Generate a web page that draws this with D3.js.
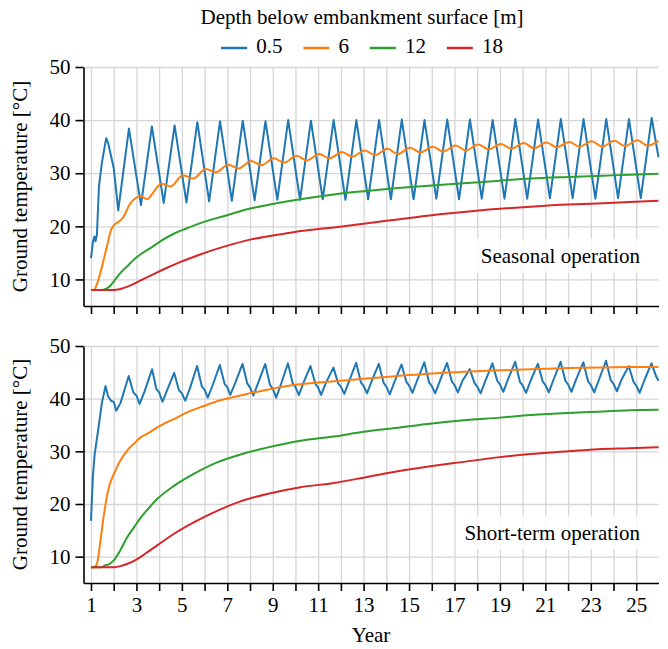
<!DOCTYPE html>
<html lang="en">
<head>
<meta charset="utf-8">
<title>Ground temperature</title>
<script src="https://cdn.jsdelivr.net/npm/d3@7/dist/d3.min.js"></script>
<style>
  body { margin: 0; background: #fff; }
  text { font-family: "Liberation Serif", "Times New Roman", serif; fill: #000; }
</style>
</head>
<body>
<script>
// Legend entries (depth below embankment surface, m)
var depths = ["0.5", "6", "12", "18"];
var colors = ["#1f77b4", "#ff7f0e", "#2ca02c", "#d62728"];

// Tick values
var yearTicks = [1, 2, 3, 4, 5, 6, 7, 8, 9, 10, 11, 12, 13, 14, 15, 16, 17, 18, 19, 20, 21, 22, 23, 24, 25];
var tempTicks = [10, 20, 30, 40, 50];

// Seasonal operation: [year, temperature]
var seasonal05 = [[1.00,14.0],[1.09,17.2],[1.15,18.1],[1.20,17.2],[1.26,18.4],[1.35,27.5],[1.48,32.0],[1.67,36.6],[1.76,35.6],[2.00,31.0],[2.20,23.0],
  [2.67,38.4],[3.20,24.0],[3.68,38.8],[4.20,24.4],[4.68,39.0],[5.20,24.5],[5.68,39.6],[6.20,24.7],[6.68,39.8],[7.20,24.8],[7.68,39.9],
  [8.20,24.9],[8.68,39.8],[9.20,25.0],[9.68,40.0],[10.20,25.0],[10.68,39.9],[11.20,25.1],[11.68,40.0],[12.20,25.0],[12.68,40.0],
  [13.20,25.1],[13.68,40.0],[14.20,25.1],[14.68,40.1],[15.20,25.1],[15.68,40.0],[16.20,25.2],[16.68,40.1],[17.20,25.1],[17.68,40.1],
  [18.20,25.2],[18.68,40.0],[19.20,25.2],[19.68,40.2],[20.20,25.2],[20.68,40.1],[21.20,25.3],[21.68,40.2],[22.20,25.3],[22.68,40.2],
  [23.20,25.2],[23.68,40.2],[24.20,25.3],[24.68,40.2],[25.20,25.3],[25.68,40.4],[25.98,33.0]];
var seasonal6 = [[1.00,8.0],[1.12,8.0],[1.25,9.0],[1.41,11.2],[1.70,16.2],[1.90,19.5],[2.05,20.4],[2.20,20.8],[2.40,21.6],[2.73,24.3],
  [3.00,25.4],[3.20,25.6],[3.47,25.1],[3.76,26.5],[4.10,28.0],[4.50,27.5],[5.05,29.6],[5.50,29.0],[6.05,30.8],[6.50,30.2],
  [7.05,31.6],[7.50,30.9],[8.05,32.3],[8.50,31.5],[9.05,32.8],[9.50,32.0],[10.05,33.3],[10.50,32.4],[11.05,33.6],[11.50,32.8],
  [12.05,34.0],[12.50,33.1],[13.05,34.3],[13.50,33.4],[14.05,34.6],[14.50,33.6],[15.05,34.8],[15.50,33.9],[16.05,35.0],[16.50,34.1],
  [17.05,35.2],[17.50,34.3],[18.05,35.4],[18.50,34.5],[19.05,35.5],[19.50,34.6],[20.05,35.7],[20.50,34.7],[21.05,35.8],[21.50,34.9],
  [22.05,35.9],[22.50,35.0],[23.05,36.0],[23.50,35.0],[24.05,36.1],[24.50,35.1],[25.05,36.2],[25.50,35.2],[25.98,36.1]];
var seasonal12 = [[1.00,8.0],[1.50,8.0],[1.70,8.3],[1.85,8.8],[2.00,9.6],[2.29,11.2],[2.60,12.5],[2.88,13.7],[3.20,14.8],[3.61,15.9],
  [4.10,17.3],[4.64,18.6],[5.20,19.6],[5.81,20.6],[6.40,21.4],[6.99,22.1],[7.60,22.9],[8.16,23.5],[9.00,24.2],[9.48,24.6],
  [10.50,25.3],[11.69,26.0],[13.00,26.6],[14.50,27.2],[16.00,27.7],[17.40,28.1],[19.00,28.6],[20.35,29.0],[22.00,29.3],
  [23.30,29.5],[24.70,29.7],[25.98,29.9]];
var seasonal18 = [[1.00,8.0],[2.00,8.0],[2.30,8.2],[2.58,8.6],[3.00,9.4],[3.32,10.1],[3.80,11.1],[4.35,12.2],[5.00,13.4],[5.81,14.7],
  [6.50,15.7],[7.28,16.7],[8.00,17.5],[8.75,18.1],[9.50,18.6],[10.22,19.1],[11.00,19.5],[11.69,19.8],[13.00,20.5],[14.50,21.3],
  [16.00,22.1],[17.40,22.7],[19.00,23.3],[20.35,23.7],[22.00,24.1],[23.30,24.3],[24.70,24.6],[25.98,24.8]];

// Short-term operation: [year, temperature]
var short05 = [[1.00,16.8],[1.08,25.0],[1.16,29.4],[1.33,34.5],[1.48,39.2],[1.64,42.4],[1.75,40.5],[1.88,39.6],[2.00,39.4],
  [2.11,37.7],[2.30,39.2],[2.66,44.3],[2.86,41.2],[3.00,40.6],
  [3.14,39.0],[3.35,41.3],[3.69,45.6],[3.88,41.8],[4.00,41.2],
  [4.15,39.4],[4.35,41.6],[4.66,44.9],[4.87,41.6],[5.00,41.0],
  [5.15,39.6],[5.35,41.9],[5.67,46.2],[5.88,42.3],[6.00,41.7],
  [6.14,40.2],[6.35,42.5],[6.67,46.4],[6.88,42.8],[7.00,42.2],
  [7.13,40.7],[7.35,43.0],[7.67,46.6],[7.88,42.9],[8.00,42.1],
  [8.15,40.6],[8.35,42.9],[8.67,46.6],[8.88,42.6],[9.00,41.9],
  [9.15,40.2],[9.35,42.6],[9.67,46.7],[9.88,42.9],[10.00,42.2],
  [10.15,40.7],[10.35,43.0],[10.66,46.2],[10.88,42.8],[11.00,42.1],
  [11.13,40.7],[11.35,43.1],[11.67,45.9],[11.88,42.9],[12.00,42.3],
  [12.15,40.9],[12.35,43.2],[12.67,46.8],[12.88,43.1],[13.00,42.4],
  [13.15,41.0],[13.35,43.3],[13.67,46.6],[13.88,43.0],[14.00,42.3],
  [14.15,40.8],[14.35,43.1],[14.67,46.5],[14.88,43.2],[15.00,42.5],
  [15.15,41.1],[15.35,43.4],[15.67,46.9],[15.88,43.1],[16.00,42.4],
  [16.15,41.0],[16.35,43.3],[16.67,46.8],[16.88,43.3],[17.00,42.6],
  [17.15,41.2],[17.35,43.4],[17.67,45.6],[17.88,43.0],[18.00,42.3],
  [18.15,41.0],[18.35,43.3],[18.67,46.7],[18.88,43.4],[19.00,42.7],
  [19.15,41.3],[19.35,43.6],[19.67,47.0],[19.88,43.2],[20.00,42.5],
  [20.15,41.1],[20.35,43.4],[20.67,46.6],[20.88,43.3],[21.00,42.6],
  [21.15,41.2],[21.35,43.5],[21.67,47.0],[21.88,43.4],[22.00,42.7],
  [22.15,41.3],[22.35,43.6],[22.67,46.9],[22.88,43.3],[23.00,42.6],
  [23.15,41.2],[23.35,43.5],[23.67,47.2],[23.88,43.5],[24.00,42.8],
  [24.15,41.4],[24.35,43.6],[24.67,46.2],[24.88,43.2],[25.00,42.5],
  [25.15,41.1],[25.35,43.4],[25.67,46.7],[25.88,44.2],[25.98,43.4]];
var short6 = [[1.00,8.0],[1.12,8.0],[1.26,8.6],[1.40,12.5],[1.55,17.4],[1.75,22.5],[2.07,26.3],[2.30,28.3],[2.58,30.1],[2.90,31.5],
  [3.17,32.6],[3.50,33.4],[3.90,34.5],[4.20,35.2],[4.64,36.1],[5.23,37.4],[5.96,38.6],[6.70,39.7],[7.58,40.6],[8.75,41.7],
  [9.93,42.6],[10.80,43.0],[11.70,43.3],[13.00,43.8],[14.50,44.3],[16.00,44.8],[17.40,45.1],[19.00,45.4],[20.35,45.6],
  [22.00,45.8],[23.30,45.9],[24.70,46.0],[25.98,46.0]];
var short12 = [[1.00,8.0],[1.45,8.0],[1.60,8.3],[1.80,8.6],[2.00,9.3],[2.30,11.3],[2.58,13.6],[2.90,15.6],[3.17,17.3],[3.50,19.0],
  [3.90,20.9],[4.64,23.4],[5.52,25.7],[6.55,27.9],[7.58,29.4],[8.75,30.7],[10.22,32.0],[11.69,32.8],[13.00,33.7],[14.50,34.5],
  [16.00,35.3],[17.40,35.9],[19.00,36.4],[20.35,36.9],[22.00,37.3],[23.30,37.5],[24.70,37.8],[25.98,37.9]];
var short18 = [[1.00,8.0],[2.00,8.0],[2.30,8.2],[2.58,8.6],[2.90,9.2],[3.17,9.9],[3.50,10.9],[3.90,12.1],[4.64,14.3],[5.52,16.5],
  [6.55,18.7],[7.58,20.5],[8.75,21.9],[10.22,23.2],[11.69,24.0],[13.00,25.0],[14.50,26.2],[16.00,27.2],[17.40,28.0],[19.00,28.9],
  [20.35,29.5],[22.00,30.0],[23.30,30.4],[24.70,30.6],[25.98,30.8]];

// Width and height
var w = 668;
var h = 649;
var left = 83.5, right = 658.5;
var fontSize = 21;

var panels = [
  { label: "Seasonal operation", top: 67, bottom: 306, series: [seasonal05, seasonal6, seasonal12, seasonal18], labelY: 258, showX: false },
  { label: "Short-term operation", top: 346, bottom: 583, series: [short05, short6, short12, short18], labelY: 535, showX: true }
];

var svg = d3.select("body")
  .append("svg")
  .attr("width", w)
  .attr("height", h);

svg.append("rect").attr("width", w).attr("height", h).attr("fill", "#fff");

// Create x scale
var xScale = d3.scaleLinear()
  .domain([0.67, 25.98])
  .range([left, right]);

panels.forEach(function(p) {
  var yScale = d3.scaleLinear()
    .domain([5, 50])
    .range([p.bottom, p.top]);

  var g = svg.append("g");

  // Grid lines
  g.append("g")
    .attr("transform", "translate(0," + p.bottom + ")")
    .call(d3.axisBottom(xScale).tickValues(yearTicks).tickSize(-(p.bottom - p.top)).tickFormat(""))
    .call(function(s) { s.select(".domain").remove(); s.selectAll("text").remove(); })
    .selectAll("line").attr("stroke", "#d6d6d6").attr("stroke-width", 1.3);

  g.append("g")
    .attr("transform", "translate(" + left + ",0)")
    .call(d3.axisLeft(yScale).tickValues(tempTicks).tickSize(-(right - left)).tickFormat(""))
    .call(function(s) { s.select(".domain").remove(); s.selectAll("text").remove(); })
    .selectAll("line").attr("stroke", "#d6d6d6").attr("stroke-width", 1.3);

  // Label box goes under the lines' text but above the grid
  var boxLayer = g.append("g");

  // Lines
  var line = d3.line()
    .x(function(d) { return xScale(d[0]); })
    .y(function(d) { return yScale(d[1]); });

  p.series.forEach(function(data, k) {
    line.curve(k === 0 ? d3.curveLinear : d3.curveMonotoneX);
    g.append("path")
      .datum(data)
      .attr("fill", "none")
      .attr("stroke", colors[k])
      .attr("stroke-width", 2)
      .attr("stroke-linejoin", "round")
      .attr("d", line);
  });

  // Annotation
  var ann = g.append("text")
    .attr("x", 640)
    .attr("y", p.labelY)
    .attr("text-anchor", "end")
    .attr("dominant-baseline", "middle")
    .style("font-size", fontSize + "px")
    .text(p.label);
  var bb = ann.node().getBBox();
  boxLayer.append("rect")
    .attr("x", bb.x - 8)
    .attr("y", bb.y - 5)
    .attr("width", bb.width + 16)
    .attr("height", bb.height + 10)
    .attr("fill", "#fff")
    .attr("opacity", 0.8);

  // Axes
  var xAxis = d3.axisBottom(xScale)
    .tickValues(yearTicks)
    .tickSize(8)
    .tickSizeOuter(0)
    .tickPadding(6)
    .tickFormat(function(d) { return p.showX && d % 2 === 1 ? d : ""; });

  var yAxis = d3.axisLeft(yScale)
    .tickValues(tempTicks)
    .tickSize(8)
    .tickSizeOuter(0)
    .tickPadding(5);

  var gx = g.append("g")
    .attr("transform", "translate(0," + p.bottom + ")")
    .call(xAxis);
  var gy = g.append("g")
    .attr("transform", "translate(" + left + ",0)")
    .call(yAxis);

  [gx, gy].forEach(function(a) {
    a.selectAll(".domain").attr("stroke", "#000").attr("stroke-width", 1.6);
    a.selectAll(".tick line").attr("stroke", "#000").attr("stroke-width", 1.6);
    a.selectAll("text").style("font-size", fontSize + "px")
      .style("font-family", "'Liberation Serif', 'Times New Roman', serif")
      .attr("fill", "#000");
  });

  // Y label
  g.append("text")
    .attr("transform", "translate(22," + ((p.top + p.bottom) / 2) + ") rotate(-90)")
    .attr("text-anchor", "middle")
    .attr("dominant-baseline", "middle")
    .style("font-size", fontSize + "px")
    .text("Ground temperature [°C]");
});

// X label
svg.append("text")
  .attr("x", (left + right) / 2)
  .attr("y", 637)
  .attr("text-anchor", "middle")
  .attr("dominant-baseline", "middle")
  .style("font-size", fontSize + "px")
  .text("Year");

// Legend
var legendCx = 362;
svg.append("text")
  .attr("x", legendCx)
  .attr("y", 19)
  .attr("text-anchor", "middle")
  .attr("dominant-baseline", "middle")
  .style("font-size", fontSize + "px")
  .text("Depth below embankment surface [m]");

var legend = svg.append("g");
var cursor = 0;
depths.forEach(function(d, i) {
  var item = legend.append("g").attr("transform", "translate(" + cursor + ",0)");
  item.append("line")
    .attr("x1", 0).attr("x2", 26)
    .attr("y1", 0).attr("y2", 0)
    .attr("stroke", colors[i])
    .attr("stroke-width", 2.5);
  var t = item.append("text")
    .attr("x", 35)
    .attr("y", 0)
    .attr("dominant-baseline", "middle")
    .style("font-size", fontSize + "px")
    .text(d);
  cursor += 35 + t.node().getComputedTextLength() + 21;
});
var legendWidth = cursor - 21;
legend.attr("transform", "translate(" + (legendCx - legendWidth / 2) + ",48)");
</script>
</body>
</html>
